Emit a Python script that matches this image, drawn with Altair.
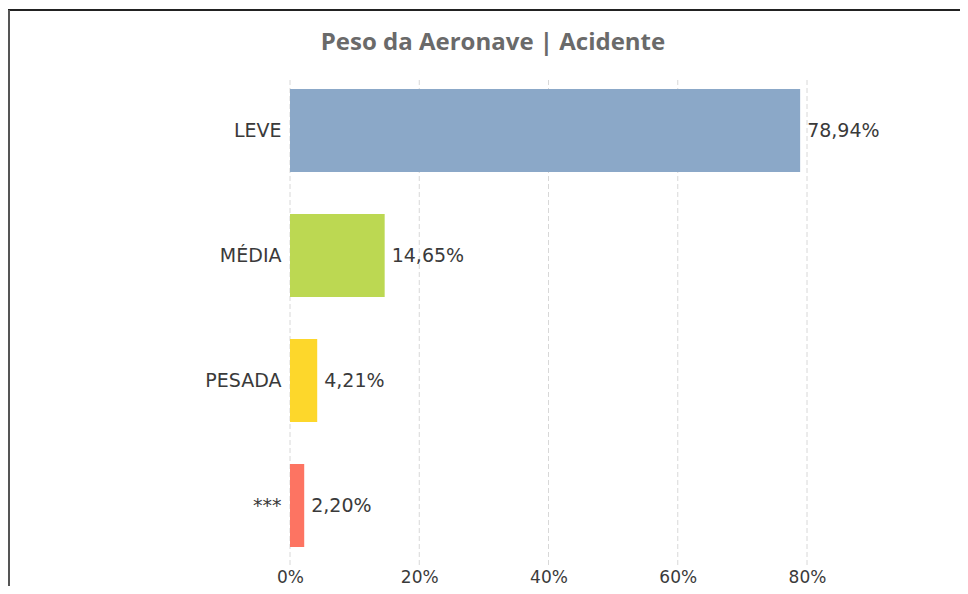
import altair as alt
import pandas as pd

title_text = ["Peso da Aeronave | Acidente"]
categories = ["LEVE", "MÉDIA", "PESADA", "***"]
values = [78.94, 14.65, 4.21, 2.20]
colors = ["#8BA8C8", "#BCD852", "#FDD72B", "#FD7462"]
x_ticks = [0, 20, 40, 60, 80]

df = pd.DataFrame({
    "cat": categories,
    "val": values,
    "label": [f"{v:.2f}".replace(".", ",") + "%" for v in values],
})

FONT = "DejaVu Sans"
W, H = 517, 488

y_enc = alt.Y("cat:N", sort=categories,
              scale=alt.Scale(paddingInner=0.336, paddingOuter=0.12, align=0.3),
              axis=alt.Axis(title=None, domain=False, ticks=False, labelPadding=9,
                            labelFont=FONT, labelFontSize=19, labelColor="#3a3a3a"))
x_scale = alt.Scale(domain=[0, 80], nice=False)

grid = alt.Chart(pd.DataFrame({"t": x_ticks})).mark_rule(
    color="#d8d8d8", strokeDash=[5, 3], strokeWidth=1
).encode(
    x=alt.X("t:Q", scale=x_scale,
            axis=alt.Axis(values=x_ticks, title=None, domain=False, ticks=False, grid=False,
                          labelFlush=False, labelOverlap=False,
                          labelPadding=1, labelFont=FONT, labelFontSize=17,
                          labelColor="#3a3a3a", labelExpr="datum.value + '%'")),
    y=alt.value(0), y2=alt.value(H),
)

bars = alt.Chart(df).mark_bar().encode(
    x=alt.X("val:Q", scale=x_scale),
    y=y_enc,
    color=alt.Color("cat:N", scale=alt.Scale(domain=categories, range=colors), legend=None),
)

labels = alt.Chart(df).mark_text(
    align="left", baseline="middle", dx=7, font=FONT, fontSize=19, color="#3a3a3a"
).encode(
    x=alt.X("val:Q", scale=x_scale),
    y=alt.Y("cat:N", sort=categories),
    text="label:N",
)

title = alt.Chart(pd.DataFrame({"t": title_text})).mark_text(
    align="center", baseline="middle", font="Open Sans", fontSize=24, fontWeight="bold",
    color="#6a6a6a"
).encode(x=alt.value(203), y=alt.value(-37), text="t:N")

frame_top = alt.Chart(pd.DataFrame({"a": [0]})).mark_rule(color="#222222", strokeWidth=2).encode(
    x=alt.value(-282), x2=alt.value(700), y=alt.value(-70)
)
frame_left = alt.Chart(pd.DataFrame({"a": [0]})).mark_rule(color="#555555", strokeWidth=2).encode(
    x=alt.value(-281), y=alt.value(-70), y2=alt.value(540)
)

chart = alt.layer(grid, bars, labels, title, frame_top, frame_left).properties(
    width=W, height=H,
    padding={"left": 282, "top": 72, "right": 153, "bottom": 18},
    autosize=alt.AutoSizeParams(type="none"),
).configure_view(stroke=None)

chart.save("out.html", embed_options={"renderer": "svg", "actions": False})
